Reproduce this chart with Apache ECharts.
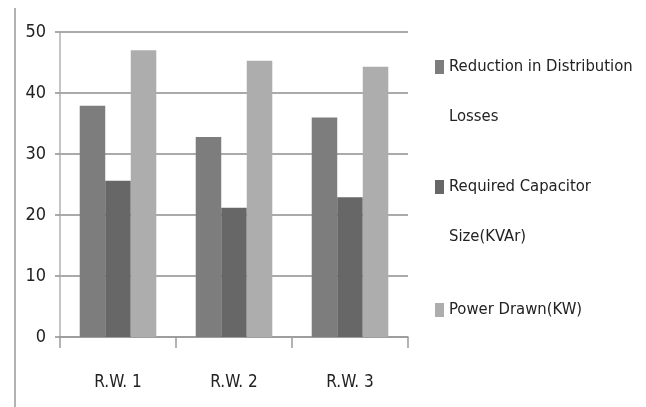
<!DOCTYPE html>
<html><head><meta charset="utf-8">
<script src="https://cdn.jsdelivr.net/npm/echarts@6/dist/echarts.min.js"></script>
<style>html,body{margin:0;padding:0;background:#fff}#c{width:646px;height:407px}</style>
</head><body><div id="c"></div>
<script>
const categories = ['R.W. 1', 'R.W. 2', 'R.W. 3'];
const seriesNames = ['Reduction in Distribution Losses', 'Required Capacitor Size(KVAr)', 'Power Drawn(KW)'];
const lossReduction = [37.9, 32.8, 36.0];
const capacitorSize = [25.6, 21.2, 22.9];
const powerDrawn = [47.0, 45.3, 44.3];
const yTicks = [0, 10, 20, 30, 40, 50];

const FONT = "'DejaVu Sans Condensed', sans-serif";
const colors = ['#7d7d7d', '#676767', '#adadad'];
const legendLabels = ['Reduction in Distribution\nLosses', 'Required Capacitor\nSize(KVAr)', 'Power Drawn(KW)'];
const legendTops = [67, 187, 310];

const chart = echarts.init(document.getElementById('c'));
const legends = seriesNames.map((n, i) => {
  const twoLine = legendLabels[i].indexOf('\n') >= 0;
  return {
    orient: 'vertical', left: 435, top: twoLine ? legendTops[i] - 75 : legendTops[i] - 25,
    padding: 0, itemWidth: 9, itemHeight: 14, itemGap: 0, icon: 'rect',
    data: [n], selectedMode: false,
    formatter: () => (twoLine ? '\n' : '') + legendLabels[i],
    textStyle: { fontFamily: FONT, fontSize: 16.5, color: '#222', lineHeight: 50 }
  };
});
chart.setOption({
  animation: false,
  color: colors,
  legend: legends,
  grid: { left: 60, right: 238, top: 32, bottom: 70, containLabel: false },
  xAxis: {
    type: 'category', data: categories,
    axisLine: { lineStyle: { color: '#9a9a9a', width: 1.5 } },
    axisTick: { show: true, length: 11, lineStyle: { color: '#9a9a9a', width: 1.5 } },
    axisLabel: { fontFamily: FONT, fontSize: 17, color: '#222', margin: 37 }
  },
  yAxis: {
    type: 'value', min: yTicks[0], max: yTicks[yTicks.length - 1], interval: 10,
    axisLine: { show: true, lineStyle: { color: '#b0b0b0', width: 1.5 } },
    axisTick: { show: true, length: 5, lineStyle: { color: '#8e8e8e', width: 1.5 } },
    axisLabel: { fontFamily: FONT, fontSize: 18, color: '#222', margin: 14 },
    splitLine: { lineStyle: { color: '#8e8e8e', width: 1.5 } }
  },
  series: [
    { name: seriesNames[0], type: 'bar', data: lossReduction, barGap: '0%', barCategoryGap: '34%' },
    { name: seriesNames[1], type: 'bar', data: capacitorSize, barGap: '0%', barCategoryGap: '34%' },
    { name: seriesNames[2], type: 'bar', data: powerDrawn, barGap: '0%', barCategoryGap: '34%' }
  ],
  graphic: [{ type: 'line', shape: { x1: 15, y1: 8, x2: 15, y2: 407 }, style: { stroke: '#999', lineWidth: 1.5 } }]
});
</script></body></html>
